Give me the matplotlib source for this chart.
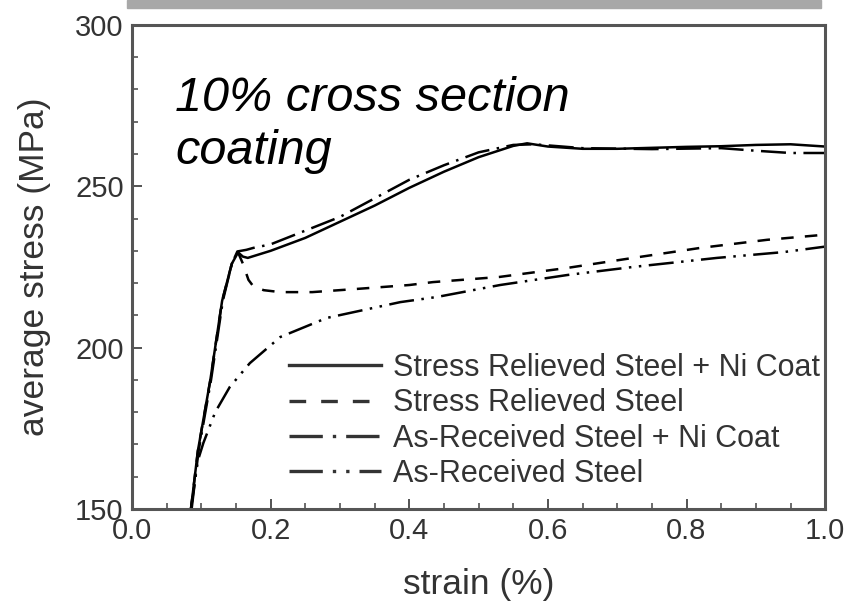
import numpy as np
import matplotlib
matplotlib.use("Agg")
import matplotlib.pyplot as plt
from matplotlib.patches import Rectangle
from matplotlib.ticker import MultipleLocator

plt.rcParams['font.family'] = ['Liberation Sans', 'DejaVu Sans']

############################################
### data (strain in %, stress in MPa)
strain_sr_ni = [0.085, 0.095, 0.113, 0.130, 0.144, 0.153, 0.160, 0.167, 0.20, 0.25,
                0.30, 0.35, 0.40, 0.45, 0.50, 0.55, 0.57, 0.60, 0.65, 0.70, 0.75,
                0.80, 0.85, 0.90, 0.95, 1.00]
stress_sr_ni = [150, 168, 190, 214.5, 226, 229.5, 228.2, 227.8, 230, 234,
                239, 244, 249.5, 254.5, 259, 262.5, 263.3, 262.3, 261.6, 261.6, 261.9,
                262.2, 262.4, 262.8, 263, 262.3]

strain_sr = [0.085, 0.095, 0.113, 0.130, 0.144, 0.153, 0.160, 0.168, 0.175, 0.19,
             0.214, 0.26, 0.325, 0.40, 0.434, 0.53, 0.628, 0.723, 0.82, 0.916, 1.00]
stress_sr = [150, 168, 190, 214.5, 226, 229.5, 226, 221, 219, 217.8,
             217.2, 217.2, 218.2, 219.4, 220.3, 221.9, 224.7, 227.8, 230.9, 233.4, 235]

strain_ar_ni = [0.086, 0.096, 0.114, 0.131, 0.144, 0.152, 0.165, 0.175, 0.20, 0.30,
                0.40, 0.45, 0.50, 0.55, 0.58, 0.65, 0.75, 0.85, 0.90, 0.95, 1.00]
stress_ar_ni = [150, 168, 190, 214.5, 226, 229.8, 230.3, 230.9, 232, 240.5,
                252, 256.5, 260.5, 262.8, 263, 261.8, 261.5, 261.8, 261, 260.3, 260.3]

strain_ar = [0.085, 0.095, 0.103, 0.12, 0.141, 0.170, 0.214, 0.281, 0.348, 0.387,
             0.44, 0.531, 0.628, 0.723, 0.844, 0.94, 1.00]
stress_ar = [150, 165, 170.5, 180, 187.8, 195.2, 203.3, 209.2, 212.3, 214.1,
             215.7, 219.4, 222.5, 225, 227.8, 229.6, 231.3]

labels = ["Stress Relieved Steel + Ni Coat", "Stress Relieved Steel",
          "As-Received Steel + Ni Coat", "As-Received Steel"]
############################################

fig = plt.figure(figsize=(8.6, 6.06), dpi=100)
ax = fig.add_axes([0.1535, 0.160, 0.806, 0.799])

# grey strip at the very top of the picture
fig.patches.append(Rectangle((127/860, 1 - 8/606), (821-127)/860, 8/606,
                             transform=fig.transFigure, color="#a8a8a8", zorder=0))

ax.plot(strain_sr_ni, stress_sr_ni, color="black", lw=1.8, ls="-", label=labels[0])
ax.plot(strain_sr, stress_sr, color="black", lw=1.8, ls=(0, (5, 4.5)), label=labels[1])
ax.plot(strain_ar_ni, stress_ar_ni, color="black", lw=1.8, ls=(0, (10, 3, 1, 3)), label=labels[2])
ax.plot(strain_ar, stress_ar, color="black", lw=1.8, ls=(0, (10, 3, 1, 3, 1, 3)), label=labels[3])

ax.set_xlim(0, 1.0)
ax.set_ylim(150, 300)
ax.xaxis.set_major_locator(MultipleLocator(0.2))
ax.xaxis.set_minor_locator(MultipleLocator(0.05))
ax.yaxis.set_major_locator(MultipleLocator(50))
ax.yaxis.set_minor_locator(MultipleLocator(10))
ax.xaxis.set_major_formatter(plt.FormatStrFormatter("%.1f"))
ax.tick_params(which="both", direction="in", top=False, right=False,
               colors="#444444", labelcolor="#333333", labelsize=21)
ax.tick_params(which="major", length=7, width=1.3, pad=6)
ax.tick_params(which="minor", length=4, width=1.1)
for sp in ax.spines.values():
    sp.set_color("#555555")
    sp.set_linewidth(2.2)

ax.set_xlabel("strain (%)", fontsize=25.5, color="#333333", labelpad=16)
ax.set_ylabel("average stress (MPa)", fontsize=25.5, color="#333333")
ax.yaxis.set_label_coords(-0.117, 0.5)

ax.text(0.062, 0.895, "10% cross section\ncoating", transform=ax.transAxes,
        fontsize=35, style="italic", color="black", va="top", ha="left",
        linespacing=1.25)

leg = ax.legend(loc="lower right", bbox_to_anchor=(0.993, 0.042), fontsize=22,
                frameon=False, handlelength=3.0, handletextpad=0.4,
                labelspacing=0.17, borderaxespad=0.0, borderpad=0.0)
for t in leg.get_texts():
    t.set_color("#333333")
for h in leg.get_lines():
    h.set_color("#333333")
    h.set_linewidth(2.4)

fig.savefig("out.png", dpi=100)
